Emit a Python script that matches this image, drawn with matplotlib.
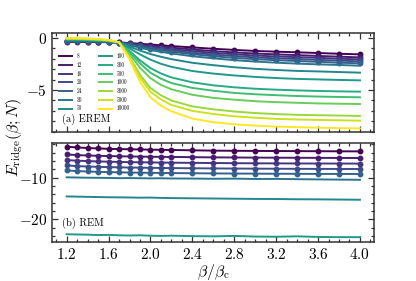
import matplotlib
matplotlib.use("Agg")
import matplotlib.pyplot as plt
from matplotlib.lines import Line2D
from matplotlib.ticker import MultipleLocator

plt.rcParams['font.family'] = 'serif'
plt.rcParams['font.serif'] = ['cmr10']
plt.rcParams['mathtext.fontset'] = 'cm'
plt.rcParams['axes.formatter.use_mathtext'] = True

beta = [1.2, 1.3, 1.4, 1.5, 1.6, 1.7, 1.8, 1.9, 2.0, 2.1, 2.2,
        2.4, 2.6, 2.8, 3.0, 3.2, 3.4, 3.6, 3.8, 4.0]

sizes = [8, 12, 16, 20, 24, 30, 50, 100, 300, 500, 1000, 3000, 5000, 10000]

# (a) EREM
erem = [
    [-0.35, -0.36, -0.37, -0.38, -0.40, -0.42, -0.48, -0.55, -0.62, -0.70, -0.77,
     -0.90, -1.03, -1.14, -1.24, -1.31, -1.37, -1.44, -1.51, -1.57],
    [-0.32, -0.33, -0.35, -0.36, -0.38, -0.42, -0.52, -0.62, -0.72, -0.82, -0.92,
     -1.10, -1.26, -1.38, -1.49, -1.57, -1.64, -1.72, -1.79, -1.86],
    [-0.30, -0.31, -0.33, -0.35, -0.37, -0.43, -0.56, -0.69, -0.82, -0.95, -1.06,
     -1.26, -1.42, -1.56, -1.68, -1.77, -1.84, -1.90, -1.99, -2.05],
    [-0.28, -0.29, -0.31, -0.33, -0.36, -0.43, -0.59, -0.76, -0.92, -1.06, -1.19,
     -1.41, -1.59, -1.73, -1.86, -1.95, -2.02, -2.10, -2.17, -2.24],
    [-0.26, -0.27, -0.29, -0.32, -0.35, -0.44, -0.64, -0.84, -1.02, -1.18, -1.32,
     -1.55, -1.75, -1.91, -2.03, -2.13, -2.21, -2.29, -2.37, -2.43],
    [-0.24, -0.25, -0.27, -0.30, -0.34, -0.44, -0.68, -0.93, -1.15, -1.33, -1.48,
     -1.75, -1.95, -2.13, -2.26, -2.37, -2.46, -2.53, -2.59, -2.66],
    [-0.20, -0.21, -0.24, -0.27, -0.32, -0.45, -0.82, -1.20, -1.54, -1.80, -2.03,
     -2.38, -2.61, -2.81, -2.96, -3.07, -3.16, -3.21, -3.27, -3.33],
    [-0.17, -0.18, -0.21, -0.25, -0.30, -0.45, -0.99, -1.57, -2.08, -2.48, -2.77,
     -3.17, -3.42, -3.60, -3.74, -3.85, -3.93, -3.98, -4.03, -4.07],
    [-0.13, -0.14, -0.17, -0.21, -0.27, -0.44, -1.24, -2.14, -2.89, -3.41, -3.79,
     -4.26, -4.55, -4.74, -4.88, -4.97, -5.04, -5.09, -5.13, -5.16],
    [-0.10, -0.11, -0.14, -0.19, -0.25, -0.43, -1.38, -2.43, -3.33, -3.91, -4.33,
     -4.80, -5.07, -5.28, -5.41, -5.50, -5.58, -5.63, -5.67, -5.70],
    [-0.08, -0.09, -0.12, -0.17, -0.23, -0.42, -1.55, -2.85, -3.86, -4.51, -4.93,
     -5.46, -5.76, -5.93, -6.08, -6.17, -6.23, -6.29, -6.32, -6.35],
    [-0.05, -0.06, -0.09, -0.14, -0.21, -0.41, -1.83, -3.53, -4.81, -5.51, -6.01,
     -6.58, -6.86, -7.07, -7.22, -7.32, -7.39, -7.43, -7.46, -7.50],
    [-0.03, -0.04, -0.07, -0.12, -0.20, -0.40, -1.91, -3.80, -5.16, -5.91, -6.44,
     -7.01, -7.31, -7.53, -7.67, -7.78, -7.84, -7.88, -7.92, -7.95],
    [-0.01, -0.02, -0.05, -0.10, -0.18, -0.40, -2.05, -4.20, -5.70, -6.50, -7.05,
     -7.75, -8.10, -8.30, -8.43, -8.52, -8.58, -8.63, -8.67, -8.70],
]

# (b) REM, only the smaller sizes
rem = [
    [-2.55, -2.70, -2.85, -2.95, -3.05, -3.10, -3.15, -3.20, -3.25, -3.28, -3.32,
     -3.40, -3.48, -3.52, -3.55, -3.58, -3.60, -3.62, -3.64, -3.66],
    [-4.40, -4.55, -4.65, -4.72, -4.78, -4.83, -4.88, -4.92, -4.95, -4.98, -5.00,
     -5.05, -5.10, -5.13, -5.16, -5.18, -5.20, -5.22, -5.24, -5.25],
    [-5.75, -5.90, -6.00, -6.08, -6.14, -6.20, -6.25, -6.28, -6.32, -6.35, -6.38,
     -6.42, -6.46, -6.50, -6.53, -6.55, -6.57, -6.58, -6.59, -6.60],
    [-7.05, -7.20, -7.30, -7.38, -7.45, -7.50, -7.55, -7.58, -7.62, -7.65, -7.68,
     -7.72, -7.76, -7.79, -7.82, -7.84, -7.86, -7.88, -7.89, -7.90],
    [-8.25, -8.40, -8.50, -8.58, -8.65, -8.70, -8.75, -8.78, -8.82, -8.85, -8.88,
     -8.92, -8.96, -8.99, -9.02, -9.04, -9.06, -9.08, -9.09, -9.10],
    [-9.90, -9.95, -10.00, -10.02, -10.05, -10.10, -10.08, -10.12, -10.15, -10.13, -10.18,
     -10.20, -10.25, -10.22, -10.30, -10.28, -10.35, -10.40, -10.45, -10.50],
    [-14.50, -14.55, -14.60, -14.65, -14.70, -14.72, -14.75, -14.80, -14.78, -14.85, -14.90,
     -14.95, -15.00, -15.05, -15.10, -15.12, -15.18, -15.20, -15.25, -15.30],
    [-23.60, -23.65, -23.70, -23.80, -23.75, -23.85, -23.90, -23.85, -23.95, -24.00, -23.95,
     -24.05, -24.10, -24.00, -24.15, -24.20, -24.10, -24.25, -24.30, -24.30],
]

n_marked = 5
colors = plt.cm.viridis([i / (len(sizes) - 1) for i in range(len(sizes))])

fig = plt.figure(figsize=(4.16, 2.81), dpi=100)
ax1 = fig.add_axes([0.125, 0.530, 0.774, 0.353])
ax2 = fig.add_axes([0.125, 0.139, 0.774, 0.352])

for i, ys in enumerate(erem):
    mk = 'o' if i < n_marked else None
    ax1.plot(beta, ys, color=colors[i], lw=1.4, marker=mk, ms=3.2)

for i, ys in enumerate(rem):
    mk = 'o' if i < n_marked else None
    ax2.plot(beta, ys, color=colors[i], lw=1.4, marker=mk, ms=3.2)

for ax in (ax1, ax2):
    ax.set_xlim(1.06, 4.134)
    ax.xaxis.set_major_locator(MultipleLocator(0.4))
    ax.xaxis.set_minor_locator(MultipleLocator(0.1))
    ax.tick_params(which='both', direction='in', top=True, right=True,
                   labelsize=11, width=0.9, color='#333333')
    ax.tick_params(which='major', length=4)
    ax.tick_params(which='minor', length=2.2)
    for s in ax.spines.values():
        s.set_linewidth(1.1)
        s.set_color('#333333')

ax1.set_ylim(-9.05, 0.5)
ax1.yaxis.set_major_locator(MultipleLocator(5))
ax1.yaxis.set_minor_locator(MultipleLocator(1))
ax1.tick_params(labelbottom=False)
ax1.text(0.03, 0.1, '(a) EREM', transform=ax1.transAxes, fontsize=7.5)

# legend shows plain lines only
handles = [Line2D([], [], color=colors[i], lw=1.4) for i in range(len(sizes))]
ax1.legend(handles, [str(n) for n in sizes], ncol=2, loc='upper left',
           bbox_to_anchor=(0.015, 0.82), frameon=False, borderpad=0,
           fontsize=3.8, handlelength=2.4, labelspacing=0.55, columnspacing=3.2,
           handletextpad=0.9)

ax2.set_ylim(-25.45, -1.65)
ax2.yaxis.set_major_locator(MultipleLocator(10))
ax2.yaxis.set_minor_locator(MultipleLocator(2))
ax2.text(0.03, 0.16, '(b) REM', transform=ax2.transAxes, fontsize=7.5)
ax2.set_xlabel(r'$\beta/\beta_{\mathrm{c}}$', fontsize=11.5, labelpad=0)

fig.text(0.035, 0.51, r'$E_{\mathrm{ridge}}(\beta;N)$', rotation=90,
         fontsize=11.5, ha='center', va='center')

fig.savefig('out.png', dpi=100)
